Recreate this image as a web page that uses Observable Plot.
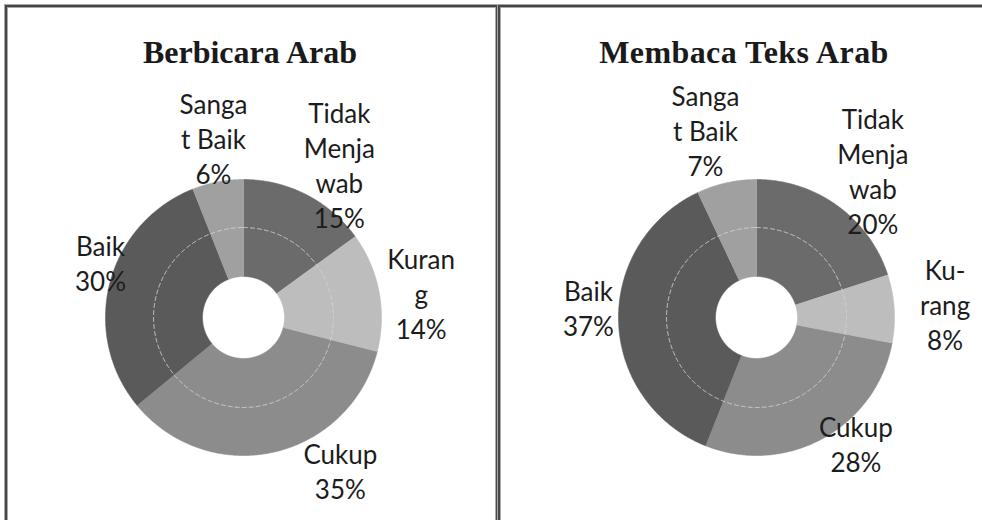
<!DOCTYPE html>
<html>
<head>
<meta charset="utf-8">
<script src="https://cdn.jsdelivr.net/npm/d3@7"></script>
<script src="https://cdn.jsdelivr.net/npm/@observablehq/plot@0.6"></script>
<style>
  html, body { margin: 0; padding: 0; background: #fff; }
  body { width: 982px; height: 520px; position: relative; overflow: hidden; }
  .panel { position: absolute; border: 2px solid #454545; box-shadow: 0 0 0 1px #a8a8a8, inset 0 0 0 1px #a8a8a8; box-sizing: border-box; }
  .title { position: absolute; top: 36px; font-family: "Liberation Serif", serif; font-weight: bold; font-size: 32px; line-height: 32px; color: #1a1a1a; white-space: nowrap; transform: translateX(-50%); }
  .chart { position: absolute; top: 75px; }
  .chart svg { overflow: visible; background: transparent; }
</style>
</head>
<body>
<div class="panel" style="left:5px; top:5px; width:493px; height:600px;"></div>
<div class="panel" style="left:498px; top:5px; width:600px; height:600px;"></div>
<div class="title" style="left:250px;">Berbicara Arab</div>
<div class="title" style="left:744px; letter-spacing:0.4px;">Membaca Teks Arab</div>
<div id="left" class="chart" style="left:8px;"></div>
<div id="right" class="chart" style="left:502px;"></div>
<script>
// ---- data ----
const categories = ["Tidak Menjawab", "Kurang", "Cukup", "Baik", "Sangat Baik"];
const berbicaraValues = [15, 14, 35, 30, 6];
const membacaValues = [20, 8, 28, 37, 7];
const berbicaraLabels = ["Tidak\nMenja\nwab", "Kuran\ng", "Cukup", "Baik", "Sanga\nt Baik"];
const membacaLabels = ["Tidak\nMenja\nwab", "Ku-\nrang", "Cukup", "Baik", "Sanga\nt Baik"];

// ---- style / layout ----
const sliceColors = ["#6b6b6b", "#bdbdbd", "#8c8c8c", "#5a5a5a", "#a0a0a0"];
const R_PX = 138, R_IN = 0.297, R_GUIDE = 0.652;
// label placement: [angle in degrees clockwise from top, distance in outer radii]
const leftLabelPolar = [[32, 1.31], [82, 1.30], [147.6, 1.31], [291, 1.11], [350.5, 1.32]];
const rightLabelPolar = [[38.3, 1.36], [85.8, 1.37], [141.6, 1.16], [273.4, 1.22], [344.8, 1.41]];

function sliceRows(values) {
  const total = d3.sum(values);
  let acc = 0;
  const rows = [];
  values.forEach((v, i) => {
    const a0 = acc / total * 2 * Math.PI;
    acc += v;
    const a1 = acc / total * 2 * Math.PI;
    const n = Math.max(2, Math.ceil((a1 - a0) / (Math.PI / 360)));
    const pts = [];
    for (let k = 0; k <= n; k++) { const a = a0 + (a1 - a0) * k / n; pts.push([Math.sin(a), Math.cos(a)]); }
    for (let k = n; k >= 0; k--) { const a = a0 + (a1 - a0) * k / n; pts.push([R_IN * Math.sin(a), R_IN * Math.cos(a)]); }
    pts.forEach(p => rows.push({ cat: categories[i], x: p[0], y: p[1], color: sliceColors[i] }));
  });
  return rows;
}

function guideRows() {
  const rows = [];
  for (let k = 0; k <= 720; k++) { const a = k / 720 * 2 * Math.PI; rows.push({ x: R_GUIDE * Math.sin(a), y: R_GUIDE * Math.cos(a) }); }
  return rows;
}

function labelRows(values, labels, polar) {
  return values.map((v, i) => {
    const a = polar[i][0] * Math.PI / 180, d = polar[i][1];
    return { text: labels[i] + "\n" + v + "%", x: d * Math.sin(a), y: d * Math.cos(a) };
  });
}

function makeChart(values, labels, polar, cx, cy, W, H) {
  return Plot.plot({
    width: W, height: H, margin: 0,
    x: { domain: [-cx / R_PX, (W - cx) / R_PX], axis: null },
    y: { domain: [-(H - cy) / R_PX, cy / R_PX], axis: null },
    marks: [
      Plot.line(sliceRows(values), { x: "x", y: "y", z: "cat", fill: "color", stroke: "color", strokeWidth: 0.6, curve: "linear" }),
      Plot.line(guideRows(), { x: "x", y: "y", stroke: "#d4d4d4", strokeWidth: 1, strokeDasharray: "4,3", strokeOpacity: 0.9 }),
      Plot.text(labelRows(values, labels, polar), { x: "x", y: "y", text: "text", fontSize: 26, lineHeight: 1.35, lineAnchor: "middle", textAnchor: "middle", fill: "#1c1c1c", fontFamily: "Lato, 'Open Sans', sans-serif" })
    ]
  });
}

document.getElementById("left").append(makeChart(berbicaraValues, berbicaraLabels, leftLabelPolar, 235, 242, 488, 445));
document.getElementById("right").append(makeChart(membacaValues, membacaLabels, rightLabelPolar, 254, 242, 480, 445));
</script>
</body>
</html>
